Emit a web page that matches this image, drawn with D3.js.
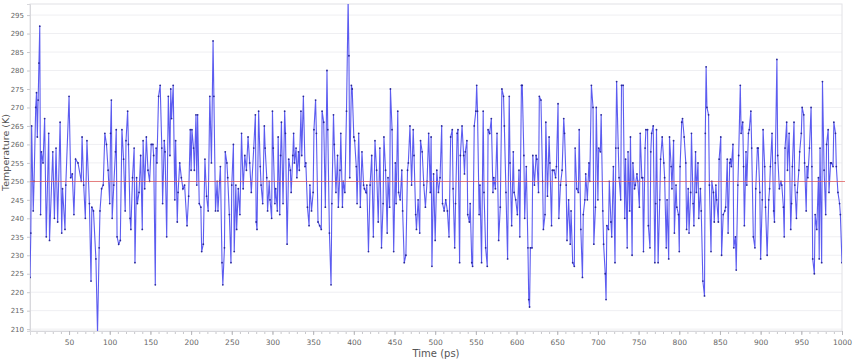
<!DOCTYPE html>
<html>
<head>
<meta charset="utf-8">
<script src="https://cdn.jsdelivr.net/npm/d3@7"></script>
<style>
body { margin: 0; background: #fff; }
text { font-family: "DejaVu Sans", sans-serif; }
</style>
</head>
<body>
<script>
// time (ps) and temperature (K)
var times = [2,3,4,6,7,9,10,11,12,13,14,15,16,18,20,22,25,26,30,32,34,36,39,41,42,45,46,50,52,54,56,58,61,65,66,68,70,72,75,77,78,80,83,85,87,
88,90,92,94,96,98,100,101,102,103,105,107,108,109,111,113,115,117,119,120,122,123,125,126,128,130,131,133,134,136,138,140,141,143,145,147,149,151,153,154,156,157,158,160,162,164,165,167,
168,170,172,174,175,176,178,180,181,183,184,186,188,190,192,195,197,199,200,201,203,204,206,207,208,210,212,213,215,217,219,221,223,225,227,228,230,232,233,235,236,238,239,241,242,244,245,247,249,250,
252,253,255,256,258,260,262,264,266,268,270,272,274,277,279,280,281,283,285,286,288,290,291,293,294,296,297,299,300,301,303,304,306,307,309,310,311,313,315,316,318,320,322,323,325,326,327,329,330,332,333,335,336,338,340,341,343,345,346,348,350,
351,353,354,356,358,360,361,363,365,367,368,370,372,373,375,376,378,380,381,383,384,386,387,389,391,393,394,395,397,398,400,401,403,404,406,408,410,412,413,415,416,418,420,422,424,426,428,430,432,434,436,437,439,441,442,444,445,447,449,
451,452,454,455,457,459,460,462,464,466,467,469,471,473,474,476,477,479,481,482,484,486,488,490,492,494,495,496,498,500,502,504,506,508,509,511,513,515,517,519,521,522,524,525,527,528,530,531,533,535,536,537,539,540,542,543,545,546,548,550,
551,552,554,555,557,559,560,562,564,565,567,569,571,572,574,576,578,580,582,584,585,587,589,591,592,594,596,597,599,601,603,604,606,607,609,610,612,614,615,616,617,619,620,622,624,625,627,628,630,632,633,635,636,638,640,641,643,644,646,648,649,
651,652,654,656,658,659,661,662,664,666,667,669,671,672,674,676,677,679,681,682,684,685,687,689,690,692,694,695,697,698,700,701,703,704,706,707,709,710,711,713,714,716,717,719,721,722,723,725,726,728,729,731,733,734,736,737,739,740,742,743,745,746,748,749,
751,752,754,755,756,758,759,761,762,764,765,766,768,770,771,772,774,776,777,779,781,782,784,785,787,788,790,791,793,794,796,797,799,800,801,803,804,806,808,809,811,812,814,815,817,818,820,821,823,824,826,827,829,831,832,833,834,836,837,839,840,842,843,845,846,848,849,
851,852,854,856,857,859,860,862,863,864,866,867,869,870,872,873,875,876,878,879,880,882,883,885,886,888,889,891,893,894,896,897,899,900,902,903,905,906,908,910,911,912,914,916,917,918,920,921,923,925,926,928,929,930,932,933,935,937,938,939,941,942,944,945,947,948,950,
951,953,954,956,957,958,960,962,963,964,966,967,969,971,972,973,975,976,978,980,981,983,984,986,987,989,990,992,993,995,997,998,1000];

var temps = [224,236,265,242,250,270,274,262,272,282,292,241,258,255,267,235,263,234,258,240,259,239,266,236,248,237,249,273,251,252,241,256,255,250,262,249,240,261,244,223,243,242,229,209,232,
242,248,249,263,260,253,244,263,272,240,249,258,264,235,233,234,264,256,242,261,269,260,240,237,251,259,228,251,244,247,257,237,261,248,262,253,250,260,260,257,222,259,255,273,276,259,244,261,
258,235,273,257,275,267,276,245,261,239,247,255,251,248,249,238,246,264,253,264,259,253,268,249,268,244,243,231,233,256,246,242,273,255,288,273,242,250,242,250,254,228,222,232,258,255,251,241,228,249,
260,231,249,237,248,241,263,248,257,253,262,255,247,259,268,239,237,269,254,249,244,265,259,251,242,250,245,240,269,259,244,248,242,262,241,257,266,244,269,263,233,256,253,247,257,263,255,259,251,258,253,269,257,273,254,255,243,238,249,242,247,
264,272,263,239,238,237,269,266,243,280,264,236,222,244,268,260,247,257,243,253,263,243,250,247,269,299,284,251,276,275,262,261,254,244,263,243,258,249,248,247,249,231,249,257,235,261,253,239,259,232,244,262,253,236,251,243,275,264,231,
255,244,269,247,245,253,242,228,230,253,255,265,249,264,257,241,237,245,236,261,258,249,243,250,263,247,262,227,252,234,253,247,251,265,244,242,245,242,235,262,264,248,232,244,263,264,228,257,265,257,252,258,261,241,239,244,228,227,265,269,
276,269,241,249,228,269,247,232,227,264,263,267,247,251,248,263,234,243,275,273,265,247,229,273,255,238,258,247,245,241,253,235,276,276,257,240,254,232,218,216,232,232,257,249,257,256,247,273,272,250,237,241,266,246,262,255,238,253,253,251,254,
271,240,249,253,267,263,249,234,245,233,242,228,227,259,248,247,264,237,224,241,245,252,245,255,250,276,270,233,243,270,245,259,258,268,242,233,225,218,238,237,250,239,235,254,228,259,277,259,251,245,276,276,240,256,232,258,242,262,230,255,248,249,252,250,
243,263,251,251,231,259,264,264,238,232,258,263,265,228,244,264,228,245,256,262,255,251,232,245,229,262,254,248,261,236,249,243,241,231,254,266,267,262,255,237,248,236,247,263,244,238,258,247,255,240,248,242,223,219,263,281,270,268,249,231,250,247,239,249,245,239,256,
262,230,241,242,243,256,236,255,256,254,260,232,235,226,249,257,276,263,266,254,238,258,249,263,264,269,259,235,232,248,259,259,247,229,245,264,254,243,230,245,248,254,263,242,239,255,283,257,248,250,249,243,235,259,266,253,263,237,244,254,266,249,240,247,253,258,263,
270,268,255,242,254,251,259,270,254,229,225,241,237,251,229,259,228,277,253,241,260,264,247,255,255,254,266,263,254,247,244,241,228];

var tempMean = 250;
var yTicks = d3.range(210, 300, 5);
var xTicks = d3.range(50, 1001, 50);

var width = 860, height = 362;
var plotLeft = 30, plotRight = 842, plotTop = 4, plotBottom = 331;

var svg = d3.select("body").append("svg")
    .attr("width", width)
    .attr("height", height);

var x = d3.scaleLinear().domain([2, 1000]).range([plotLeft, plotRight]);
var y = d3.scaleLinear().domain([209.5, 298]).range([plotBottom, plotTop]);

svg.append("clipPath").attr("id", "clip")
    .append("rect")
    .attr("x", plotLeft).attr("y", plotTop)
    .attr("width", plotRight - plotLeft).attr("height", plotBottom - plotTop);

// horizontal grid
svg.append("g").selectAll("line")
    .data(yTicks)
    .enter().append("line")
    .attr("x1", plotLeft).attr("x2", plotRight)
    .attr("y1", function(d){ return y(d); })
    .attr("y2", function(d){ return y(d); })
    .attr("stroke", "#efeff2")
    .attr("stroke-width", 1);

// frame
svg.append("rect")
    .attr("x", plotLeft).attr("y", plotTop)
    .attr("width", plotRight - plotLeft).attr("height", plotBottom - plotTop)
    .attr("fill", "none")
    .attr("stroke", "#e2e2e6");

// y axis
var yAxis = d3.axisLeft(y).tickValues(yTicks).tickSize(3).tickPadding(3);
var gy = svg.append("g").attr("transform", "translate(" + plotLeft + ",0)").call(yAxis);
gy.select(".domain").attr("stroke", "#d8d8dc");
gy.selectAll(".tick line").attr("stroke", "#c8c8cc");
gy.selectAll("text").attr("fill", "#666").style("font-size", "7px");

// x axis with minor ticks
var xMinor = d3.axisBottom(x).tickValues(d3.range(10, 1001, 10)).tickSize(3).tickFormat("");
var gm = svg.append("g").attr("transform", "translate(0," + plotBottom + ")").call(xMinor);
gm.select(".domain").remove();
gm.selectAll(".tick line").attr("stroke", "#c8c8cc");

var xAxis = d3.axisBottom(x).tickValues(xTicks).tickSize(4).tickPadding(5).tickFormat(d3.format("d"));
var gx = svg.append("g").attr("transform", "translate(0," + plotBottom + ")").call(xAxis);
gx.select(".domain").attr("stroke", "#d8d8dc");
gx.selectAll(".tick line").attr("stroke", "#b8b8bc");
gx.selectAll("text").attr("fill", "#666").style("font-size", "7.5px");

// axis titles
svg.append("text")
    .attr("x", (plotLeft + plotRight) / 2).attr("y", 357)
    .attr("text-anchor", "middle")
    .attr("fill", "#555")
    .style("font-size", "10px")
    .text("Time (ps)");

svg.append("text")
    .attr("transform", "translate(9," + ((plotTop + plotBottom) / 2 - 15) + ") rotate(-90)")
    .attr("text-anchor", "middle")
    .attr("fill", "#555")
    .style("font-size", "9.5px")
    .text("Temperature (K)");

var n = Math.min(times.length, temps.length);
var data = times.slice(0, n).map(function(t, i){ return {t: t, v: temps[i]}; });

var plot = svg.append("g").attr("clip-path", "url(#clip)");

var line = d3.line()
    .x(function(d){ return x(d.t); })
    .y(function(d){ return y(d.v); });

plot.append("path")
    .datum(data)
    .attr("d", line)
    .attr("fill", "none")
    .attr("stroke", "#4a4aee")
    .attr("stroke-opacity", 0.9)
    .attr("stroke-width", 1.1);

plot.selectAll("circle")
    .data(data)
    .enter()
    .append("circle")
    .attr("cx", function(d){ return x(d.t); })
    .attr("cy", function(d){ return y(d.v); })
    .attr("r", 0.9)
    .attr("fill", "#2a2a99");

// mean line, drawn over the series
svg.append("line")
    .attr("x1", plotLeft).attr("x2", plotRight + 3)
    .attr("y1", Math.round(y(tempMean)) + 0.5).attr("y2", Math.round(y(tempMean)) + 0.5)
    .attr("stroke", "#e05a5a")
    .attr("stroke-opacity", 0.75)
    .attr("stroke-width", 1);
</script>
</body>
</html>
